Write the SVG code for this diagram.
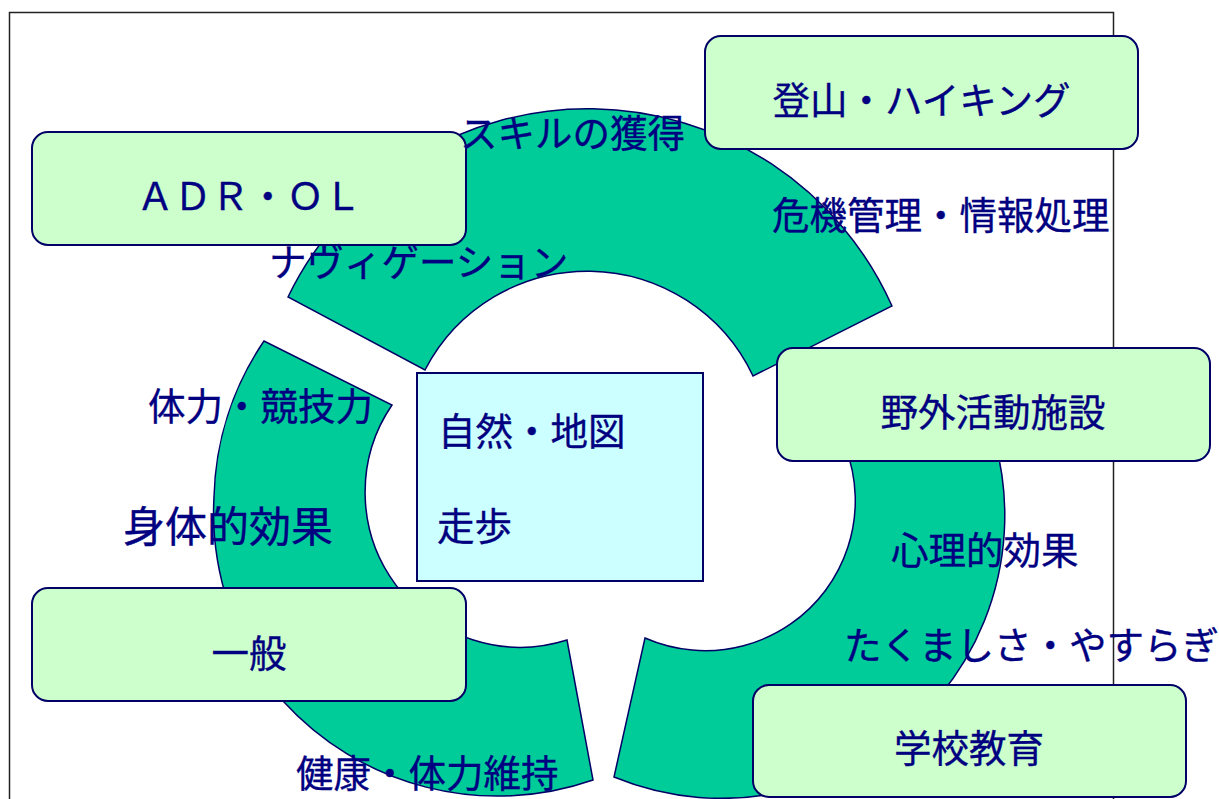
<svg xmlns="http://www.w3.org/2000/svg" width="1219" height="799" viewBox="0 0 1219 799">
<style>
.sector{fill:#00CC99;stroke:#000066;stroke-width:1.5;stroke-linejoin:miter}
.box{fill:#CCFFCC;stroke:#000066;stroke-width:2}
.core{fill:#CCFFFF;stroke:#000066;stroke-width:2}
text{font-family:"Noto Sans CJK JP","Noto Sans CJK SC",sans-serif;font-size:37.5px;fill:#000080;stroke:#000080;stroke-width:0.35}
.mid{text-anchor:middle}
</style>
<rect x="0" y="0" width="1219" height="799" fill="#FFFFFF"/>
<path d="M9.5,805 V12.5 H1113.5 V805" fill="none" stroke="#222222" stroke-width="1.5"/>
<g id="sectors">
<path id="sector-top" class="sector" d="M288,297 A333,333 0 0 1 892,306 L753,376 A183,183 0 0 0 425,370 Z"/>
<path id="sector-left" class="sector" d="M264,341 A290,290 0 0 0 214,497 A290,290 0 0 0 283,701 A290,290 0 0 0 593,780 L567,640 A155,155 0 0 1 392,405 Z"/>
<path id="sector-right" class="sector" d="M959,361 A283,283 0 0 1 614,777 L645,638 A150,150 0 0 0 820,404 Z"/>
</g>
<g id="node-core">
<rect class="core" x="417" y="373" width="286" height="208"/>
<text x="438" y="445">自然・地図</text>
<text x="437" y="540">走歩</text>
</g>
<g id="node-adr">
<rect class="box" x="32" y="132" width="434" height="113" rx="16"/>
<text class="mid" x="249" y="210">ＡＤＲ・ＯＬ</text>
</g>
<g id="node-hiking">
<rect class="box" x="705" y="36" width="433" height="113" rx="16"/>
<text class="mid" x="921.5" y="114">登山・ハイキング</text>
</g>
<g id="node-facility">
<rect class="box" x="777" y="348" width="433" height="113" rx="16"/>
<text class="mid" x="993" y="425.5">野外活動施設</text>
</g>
<g id="node-general">
<rect class="box" x="32" y="588" width="434" height="113" rx="16"/>
<text class="mid" x="249" y="667">一般</text>
</g>
<g id="node-school">
<rect class="box" x="753" y="685" width="433" height="112" rx="16"/>
<text class="mid" x="969" y="762">学校教育</text>
</g>
<g id="labels">
<text x="460" y="147">スキルの獲得</text>
<text x="269" y="276">ナヴィゲーション</text>
<text x="772" y="229">危機管理・情報処理</text>
<text x="148" y="420">体力・競技力</text>
<text x="123" y="541.5" style="font-size:42px">身体的効果</text>
<text x="891" y="563.5">心理的効果</text>
<text x="844" y="658.5">たくましさ・やすらぎ</text>
<text x="296" y="787">健康・体力維持</text>
</g>
</svg>
